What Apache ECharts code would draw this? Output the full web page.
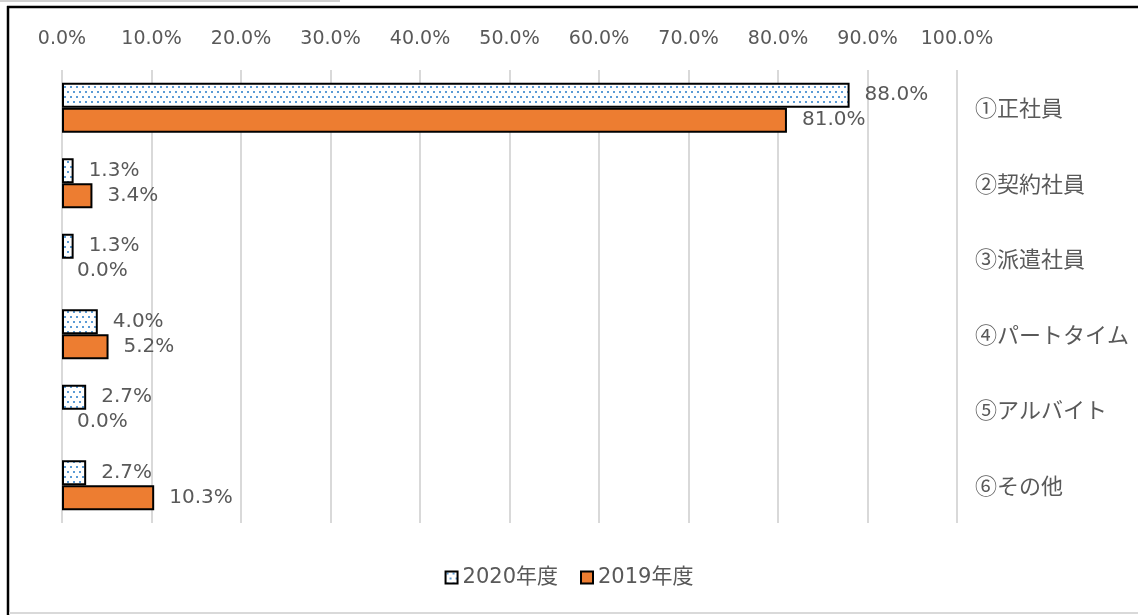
<!DOCTYPE html>
<html>
<head>
<meta charset="utf-8">
<script src="https://cdn.jsdelivr.net/npm/echarts@6/dist/echarts.min.js"></script>
<style>
html,body{margin:0;padding:0;background:#fff;}
#chart{width:1138px;height:615px;}
</style>
</head>
<body>
<div id="chart"></div>
<script>
const categories = ['①正社員', '②契約社員', '③派遣社員', '④パートタイム', '⑤アルバイト', '⑥その他'];
const seriesNames = ['2020年度', '2019年度'];
const values2020 = [88.0, 1.3, 1.3, 4.0, 2.7, 2.7];
const values2019 = [81.0, 3.4, 0.0, 5.2, 0.0, 10.3];
const xTicks = [0, 10, 20, 30, 40, 50, 60, 70, 80, 90, 100];

// dotted pattern for 2020
const pc = document.createElement('canvas');
pc.width = 6; pc.height = 10;
const pctx = pc.getContext('2d');
pctx.fillStyle = '#ffffff';
pctx.fillRect(0, 0, 6, 10);
pctx.fillStyle = '#5B9BD5';
pctx.fillRect(1, 1, 2, 2);
pctx.fillRect(4, 6, 2, 2);
const dotPattern = { image: pc, repeat: 'repeat' };

function toItems(arr) {
  return arr.map(v => v === 0 ? { value: v, itemStyle: { borderWidth: 0 } } : v);
}

const chart = echarts.init(document.getElementById('chart'));
const labelStyle = {
  show: true,
  position: 'right',
  distance: 15,
  color: '#595959',
  fontSize: 20,
  fontFamily: 'DejaVu Sans',
  formatter: p => p.value.toFixed(1) + '%'
};
chart.setOption({
  animation: false,
  backgroundColor: '#fff',
  graphic: [
    { type: 'line', shape: { x1: 0, y1: 1, x2: 340, y2: 1 }, style: { stroke: '#d0d0d0', lineWidth: 2 } },
    { type: 'line', shape: { x1: 7, y1: 7, x2: 1138, y2: 7 }, style: { stroke: '#000', lineWidth: 2.5 } },
    { type: 'line', shape: { x1: 8, y1: 6, x2: 8, y2: 615 }, style: { stroke: '#000', lineWidth: 2.5 } },
    { type: 'line', shape: { x1: 9, y1: 613, x2: 1138, y2: 613 }, style: { stroke: '#d9d9d9', lineWidth: 2 } }
  ],
  grid: { left: 62, right: 181, top: 70, bottom: 92, containLabel: false },
  legend: {
    bottom: 22,
    left: 'center',
    itemWidth: 12,
    itemHeight: 12,
    itemGap: 22,
    icon: 'rect',
    textStyle: { color: '#595959', fontSize: 21, fontFamily: 'DejaVu Sans, Noto Sans CJK JP' },
    data: [
      { name: seriesNames[0], itemStyle: { color: dotPattern, borderColor: '#000', borderWidth: 2 } },
      { name: seriesNames[1], itemStyle: { color: '#ED7D31', borderColor: '#000', borderWidth: 2 } }
    ]
  },
  xAxis: {
    type: 'value',
    position: 'top',
    min: xTicks[0],
    max: xTicks[xTicks.length - 1],
    interval: 10,
    axisLine: { show: false },
    axisTick: { show: false },
    axisLabel: {
      color: '#595959',
      fontSize: 19,
      fontFamily: 'DejaVu Sans',
      margin: 21,
      formatter: v => v.toFixed(1) + '%'
    },
    splitLine: { show: true, lineStyle: { color: '#d9d9d9', width: 2 } }
  },
  yAxis: {
    type: 'category',
    data: categories,
    inverse: true,
    position: 'right',
    axisLine: { show: false },
    axisTick: { show: false },
    axisLabel: {
      color: '#595959',
      fontSize: 22,
      fontFamily: 'Noto Sans CJK JP',
      margin: 18
    }
  },
  series: [
    {
      name: seriesNames[0],
      type: 'bar',
      data: toItems(values2020),
      barWidth: 25,
      barGap: '0%',
      itemStyle: { color: dotPattern, borderColor: '#000', borderWidth: 2 },
      label: labelStyle
    },
    {
      name: seriesNames[1],
      type: 'bar',
      data: toItems(values2019),
      barWidth: 25,
      barGap: '0%',
      itemStyle: { color: '#ED7D31', borderColor: '#000', borderWidth: 2 },
      label: labelStyle
    }
  ]
});
</script>
</body>
</html>
